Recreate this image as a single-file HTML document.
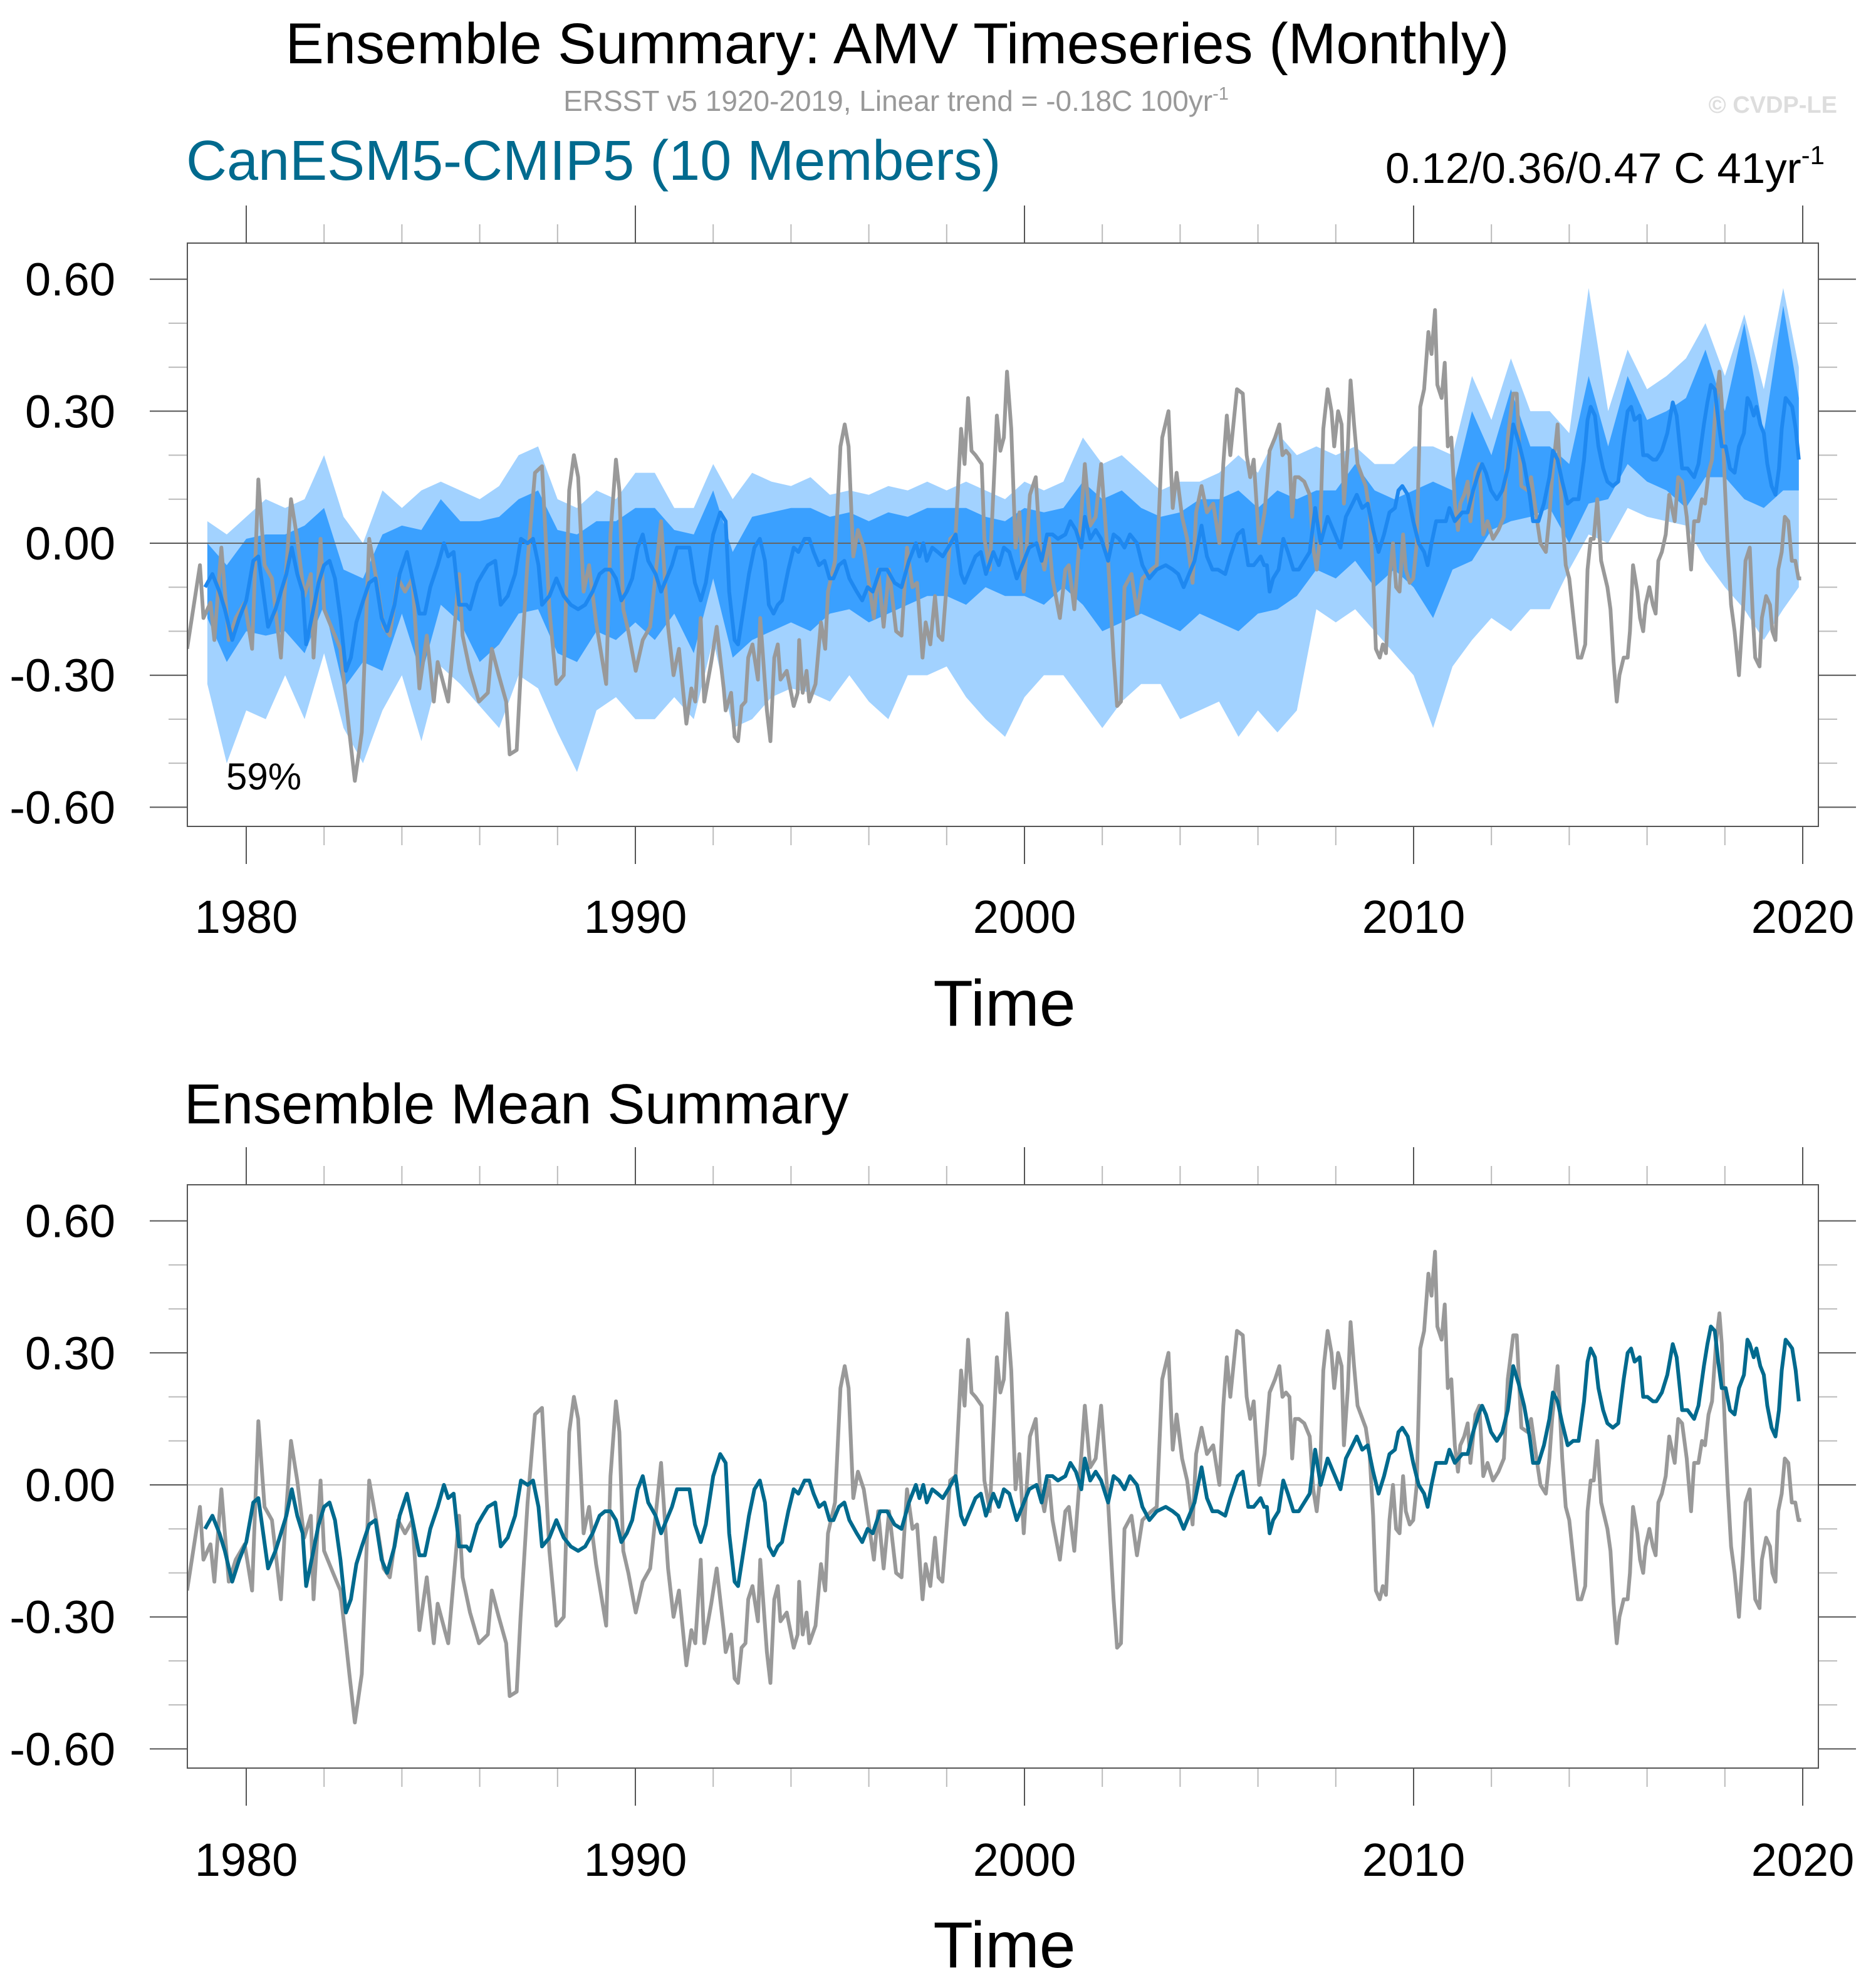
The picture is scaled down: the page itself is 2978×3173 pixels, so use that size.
<!DOCTYPE html>
<html><head><meta charset="utf-8">
<style>
html,body{margin:0;padding:0;background:#fff;}
svg{display:block;font-family:"Liberation Sans",sans-serif;}
</style></head>
<body>
<svg id="chart" width="2978" height="3173" viewBox="0 0 2978 3173" xmlns="http://www.w3.org/2000/svg">
<text x="1432" y="101" font-size="92" text-anchor="middle" fill="#000">Ensemble Summary: AMV Timeseries (Monthly)</text>
<text x="1430" y="177" font-size="46" text-anchor="middle" fill="#999">ERSST v5 1920-2019, Linear trend = -0.18C 100yr<tspan dy="-18" font-size="29">-1</tspan></text>
<text x="2932" y="180" font-size="38" font-weight="bold" text-anchor="end" fill="#ddd">© CVDP-LE</text>
<text x="297" y="287" font-size="90" fill="#006a8e">CanESM5-CMIP5 (10 Members)</text>
<text x="2912" y="292" font-size="69" text-anchor="end" fill="#000">0.12/0.36/0.47 C 41yr<tspan dy="-30" font-size="42">-1</tspan></text>
<text x="294" y="1793" font-size="90" fill="#000">Ensemble Mean Summary</text>
<g id="top"></g>
<g id="bot"></g>
</svg>
<script>
const obsYears=[1978.48,1978.81,1978.90,1979.08,1979.18,1979.36,1979.55,1979.73,1979.96,1980.15,1980.31,1980.47,1980.66,1980.89,1980.98,1981.15,1981.31,1981.49,1981.66,1981.73,1981.91,1982.00,1982.23,1982.42,1982.65,1982.79,1982.97,1983.16,1983.34,1983.53,1983.69,1983.90,1984.08,1984.27,1984.45,1984.64,1984.82,1984.92,1985.19,1985.47,1985.56,1985.75,1985.98,1986.21,1986.31,1986.49,1986.68,1986.77,1986.95,1987.05,1987.23,1987.42,1987.60,1987.79,1987.97,1988.16,1988.30,1988.42,1988.53,1988.67,1988.81,1988.99,1989.25,1989.36,1989.50,1989.59,1989.69,1989.82,1990.01,1990.19,1990.38,1990.66,1990.84,1990.98,1991.12,1991.31,1991.44,1991.54,1991.68,1991.77,1991.95,1992.09,1992.27,1992.32,1992.46,1992.55,1992.64,1992.73,1992.83,1992.90,1993.01,1993.15,1993.21,1993.38,1993.47,1993.57,1993.66,1993.73,1993.89,1994.07,1994.17,1994.21,1994.30,1994.40,1994.47,1994.63,1994.77,1994.88,1994.95,1995.13,1995.27,1995.38,1995.48,1995.60,1995.72,1995.87,1995.97,1996.13,1996.24,1996.38,1996.52,1996.70,1996.84,1996.98,1997.12,1997.24,1997.38,1997.46,1997.58,1997.70,1997.79,1997.89,1998.09,1998.23,1998.37,1998.46,1998.55,1998.64,1998.74,1998.90,1998.97,1999.11,1999.29,1999.38,1999.47,1999.55,1999.66,1999.77,1999.87,1999.98,2000.14,2000.29,2000.40,2000.51,2000.63,2000.72,2000.91,2001.05,2001.14,2001.28,2001.39,2001.55,2001.69,2001.83,2001.97,2002.15,2002.29,2002.38,2002.48,2002.57,2002.75,2002.89,2003.03,2003.26,2003.40,2003.54,2003.70,2003.81,2003.91,2004.05,2004.18,2004.32,2004.41,2004.55,2004.69,2004.85,2005.01,2005.11,2005.20,2005.29,2005.46,2005.61,2005.71,2005.80,2005.89,2006.03,2006.17,2006.30,2006.44,2006.55,2006.63,2006.72,2006.81,2006.88,2006.95,2007.05,2007.19,2007.33,2007.42,2007.51,2007.59,2007.68,2007.79,2007.89,2007.96,2008.06,2008.15,2008.21,2008.31,2008.38,2008.47,2008.56,2008.77,2008.87,2008.96,2009.03,2009.13,2009.21,2009.29,2009.38,2009.47,2009.55,2009.64,2009.73,2009.80,2009.90,2009.99,2010.08,2010.17,2010.27,2010.38,2010.46,2010.55,2010.61,2010.72,2010.80,2010.88,2010.97,2011.06,2011.14,2011.20,2011.30,2011.39,2011.46,2011.59,2011.69,2011.79,2011.90,2012.04,2012.18,2012.32,2012.42,2012.56,2012.65,2012.77,2012.93,2013.02,2013.16,2013.26,2013.40,2013.49,2013.56,2013.70,2013.82,2013.91,2014.00,2014.12,2014.22,2014.31,2014.41,2014.47,2014.55,2014.63,2014.72,2014.82,2014.98,2015.06,2015.14,2015.22,2015.29,2015.40,2015.50,2015.56,2015.64,2015.75,2015.82,2015.90,2015.96,2016.06,2016.15,2016.22,2016.29,2016.38,2016.48,2016.57,2016.71,2016.80,2016.90,2017.02,2017.13,2017.21,2017.32,2017.41,2017.49,2017.58,2017.67,2017.77,2017.86,2017.92,2018.00,2018.07,2018.16,2018.25,2018.36,2018.46,2018.53,2018.64,2018.72,2018.78,2018.89,2018.95,2019.06,2019.16,2019.22,2019.30,2019.37,2019.46,2019.54,2019.63,2019.72,2019.81,2019.89,2019.96];
const obsValues=[-0.24,-0.05,-0.17,-0.135,-0.22,-0.01,-0.22,-0.17,-0.135,-0.24,0.145,-0.05,-0.08,-0.26,-0.12,0.10,0.01,-0.12,-0.07,-0.26,0.01,-0.15,-0.20,-0.24,-0.43,-0.54,-0.43,0.01,-0.08,-0.19,-0.21,-0.08,-0.11,-0.08,-0.33,-0.21,-0.36,-0.27,-0.36,-0.07,-0.21,-0.29,-0.36,-0.34,-0.24,-0.30,-0.36,-0.48,-0.47,-0.30,-0.04,0.16,0.175,-0.15,-0.32,-0.30,0.12,0.20,0.15,-0.11,-0.05,-0.18,-0.32,0.02,0.19,0.12,-0.15,-0.20,-0.29,-0.22,-0.19,0.05,-0.19,-0.30,-0.24,-0.41,-0.33,-0.36,-0.17,-0.36,-0.27,-0.19,-0.33,-0.38,-0.34,-0.44,-0.45,-0.37,-0.36,-0.26,-0.23,-0.31,-0.17,-0.38,-0.45,-0.26,-0.23,-0.31,-0.29,-0.37,-0.34,-0.22,-0.34,-0.29,-0.36,-0.32,-0.18,-0.24,-0.11,-0.04,0.22,0.27,0.22,-0.03,0.03,-0.01,-0.07,-0.17,-0.06,-0.19,-0.06,-0.20,-0.21,-0.01,-0.10,-0.09,-0.26,-0.18,-0.23,-0.12,-0.21,-0.22,0.01,0.02,0.26,0.18,0.33,0.21,0.20,0.18,0.01,-0.06,0.29,0.21,0.24,0.39,0.26,-0.01,0.07,-0.11,0.11,0.15,-0.01,-0.06,0.01,-0.08,-0.17,-0.06,-0.05,-0.15,-0.02,0.18,0.04,0.06,0.18,-0.04,-0.26,-0.37,-0.36,-0.10,-0.07,-0.16,-0.08,-0.06,-0.05,0.24,0.30,0.08,0.16,0.06,0.01,-0.09,0.07,0.13,0.07,0.09,0.00,0.18,0.29,0.20,0.35,0.34,0.20,0.15,0.19,0.00,0.07,0.21,0.24,0.27,0.20,0.21,0.20,0.06,0.15,0.15,0.14,0.11,-0.01,-0.06,0.01,0.26,0.35,0.30,0.22,0.30,0.27,0.09,0.22,0.37,0.27,0.18,0.13,0.07,-0.07,-0.24,-0.26,-0.23,-0.25,-0.08,0.00,-0.10,-0.11,0.02,-0.06,-0.09,-0.08,0.00,0.31,0.35,0.48,0.43,0.53,0.36,0.33,0.41,0.22,0.24,0.09,0.03,0.09,0.11,0.14,0.05,0.16,0.18,0.02,0.05,0.01,0.03,0.06,0.24,0.34,0.34,0.13,0.12,0.15,0.06,0.00,-0.02,0.06,0.15,0.27,0.06,-0.05,-0.08,-0.18,-0.26,-0.26,-0.23,-0.06,0.01,0.01,0.10,-0.04,-0.10,-0.15,-0.27,-0.36,-0.30,-0.26,-0.26,-0.20,-0.05,-0.11,-0.17,-0.20,-0.14,-0.10,-0.14,-0.16,-0.04,-0.02,0.02,0.11,0.05,0.15,0.14,0.06,-0.06,0.05,0.05,0.10,0.09,0.16,0.19,0.32,0.39,0.32,0.13,0.00,-0.14,-0.20,-0.30,-0.16,-0.04,-0.01,-0.17,-0.26,-0.28,-0.17,-0.12,-0.14,-0.20,-0.22,-0.06,-0.02,0.06,0.05,-0.04,-0.04,-0.08,-0.08];
const meanYears=[1978.94,1979.13,1979.31,1979.45,1979.64,1979.82,1980.00,1980.18,1980.31,1980.42,1980.56,1980.75,1980.89,1981.03,1981.17,1981.31,1981.45,1981.54,1981.68,1981.86,1982.00,1982.14,1982.28,1982.42,1982.56,1982.69,1982.83,1982.97,1983.16,1983.32,1983.48,1983.62,1983.81,1983.94,1984.13,1984.27,1984.45,1984.59,1984.73,1984.92,1985.08,1985.19,1985.33,1985.47,1985.66,1985.75,1985.94,1986.07,1986.21,1986.40,1986.54,1986.72,1986.91,1987.06,1987.23,1987.37,1987.51,1987.60,1987.79,1987.97,1988.16,1988.34,1988.53,1988.71,1988.90,1989.08,1989.22,1989.36,1989.50,1989.64,1989.78,1989.92,1990.06,1990.19,1990.33,1990.52,1990.66,1990.80,1990.94,1991.07,1991.26,1991.39,1991.53,1991.68,1991.81,1992.00,1992.18,1992.32,1992.41,1992.55,1992.64,1992.78,1992.92,1993.06,1993.20,1993.33,1993.43,1993.55,1993.66,1993.77,1993.93,1994.07,1994.19,1994.35,1994.47,1994.58,1994.72,1994.86,1994.99,1995.09,1995.23,1995.37,1995.50,1995.69,1995.83,1995.97,1996.10,1996.29,1996.47,1996.66,1996.84,1997.03,1997.21,1997.30,1997.40,1997.49,1997.63,1997.77,1997.90,1998.04,1998.23,1998.37,1998.46,1998.60,1998.74,1998.88,1999.01,1999.20,1999.34,1999.47,1999.61,1999.80,1999.94,2000.12,2000.31,2000.44,2000.58,2000.72,2000.86,2001.05,2001.18,2001.32,2001.46,2001.55,2001.69,2001.83,2001.97,2002.15,2002.29,2002.43,2002.57,2002.71,2002.89,2003.03,2003.21,2003.40,2003.63,2003.81,2003.95,2004.09,2004.23,2004.37,2004.55,2004.69,2004.83,2004.97,2005.16,2005.29,2005.48,2005.61,2005.75,2005.89,2006.07,2006.16,2006.23,2006.30,2006.39,2006.53,2006.65,2006.77,2006.91,2007.05,2007.19,2007.33,2007.47,2007.61,2007.79,2007.98,2008.12,2008.26,2008.43,2008.54,2008.68,2008.82,2008.96,2009.10,2009.24,2009.38,2009.52,2009.61,2009.71,2009.85,2009.99,2010.13,2010.27,2010.36,2010.46,2010.58,2010.69,2010.83,2010.92,2011.06,2011.25,2011.39,2011.53,2011.67,2011.76,2011.86,2011.99,2012.14,2012.28,2012.42,2012.56,2012.70,2012.84,2012.98,2013.07,2013.21,2013.35,2013.49,2013.58,2013.70,2013.82,2013.96,2014.10,2014.24,2014.38,2014.47,2014.55,2014.66,2014.75,2014.87,2014.98,2015.12,2015.26,2015.40,2015.50,2015.59,2015.68,2015.81,2015.90,2016.01,2016.15,2016.24,2016.38,2016.52,2016.66,2016.76,2016.90,2017.04,2017.21,2017.32,2017.46,2017.55,2017.64,2017.74,2017.83,2017.92,2018.02,2018.13,2018.25,2018.36,2018.49,2018.58,2018.64,2018.74,2018.81,2018.91,2019.00,2019.09,2019.20,2019.30,2019.39,2019.46,2019.56,2019.65,2019.73,2019.82,2019.90];
const meanValues=[-0.10,-0.07,-0.11,-0.15,-0.22,-0.17,-0.13,-0.04,-0.03,-0.10,-0.19,-0.15,-0.11,-0.07,-0.01,-0.07,-0.11,-0.23,-0.17,-0.09,-0.05,-0.04,-0.08,-0.17,-0.29,-0.26,-0.18,-0.14,-0.09,-0.08,-0.17,-0.20,-0.14,-0.07,-0.02,-0.08,-0.16,-0.16,-0.10,-0.05,0.00,-0.03,-0.02,-0.14,-0.14,-0.15,-0.09,-0.07,-0.05,-0.04,-0.14,-0.12,-0.07,0.01,0.00,0.01,-0.05,-0.14,-0.12,-0.08,-0.12,-0.14,-0.15,-0.14,-0.11,-0.07,-0.06,-0.06,-0.08,-0.13,-0.11,-0.08,-0.01,0.02,-0.04,-0.07,-0.11,-0.08,-0.05,-0.01,-0.01,-0.01,-0.09,-0.13,-0.09,0.02,0.07,0.05,-0.11,-0.22,-0.23,-0.15,-0.07,-0.01,0.01,-0.04,-0.14,-0.16,-0.14,-0.13,-0.06,-0.01,-0.02,0.01,0.01,-0.02,-0.05,-0.04,-0.08,-0.08,-0.05,-0.04,-0.08,-0.11,-0.13,-0.10,-0.11,-0.06,-0.06,-0.09,-0.10,-0.04,0.00,-0.03,0.00,-0.04,-0.01,-0.02,-0.03,-0.01,0.02,-0.07,-0.09,-0.06,-0.03,-0.02,-0.07,-0.02,-0.05,-0.01,-0.02,-0.08,-0.05,-0.01,0.00,-0.04,0.02,0.02,0.01,0.02,0.05,0.03,-0.01,0.06,0.01,0.03,0.01,-0.04,0.02,0.01,-0.01,0.02,0.00,-0.05,-0.08,-0.06,-0.05,-0.06,-0.07,-0.10,-0.07,-0.04,0.04,-0.03,-0.06,-0.06,-0.07,-0.03,0.02,0.03,-0.05,-0.05,-0.03,-0.05,-0.05,-0.11,-0.08,-0.06,0.01,-0.02,-0.06,-0.06,-0.04,-0.02,0.08,0.00,0.06,0.02,-0.01,0.06,0.09,0.11,0.08,0.09,0.03,-0.02,0.02,0.07,0.08,0.12,0.13,0.11,0.05,0.00,-0.02,-0.05,0.00,0.05,0.05,0.05,0.08,0.05,0.07,0.07,0.12,0.16,0.18,0.16,0.12,0.10,0.12,0.17,0.27,0.23,0.18,0.11,0.05,0.05,0.09,0.15,0.21,0.19,0.14,0.09,0.10,0.10,0.19,0.28,0.31,0.29,0.22,0.17,0.14,0.13,0.14,0.24,0.30,0.31,0.28,0.29,0.20,0.20,0.19,0.19,0.21,0.25,0.32,0.29,0.17,0.17,0.15,0.18,0.27,0.32,0.36,0.35,0.28,0.22,0.22,0.17,0.16,0.22,0.25,0.33,0.32,0.29,0.31,0.27,0.25,0.18,0.13,0.11,0.17,0.26,0.33,0.32,0.31,0.26,0.19];
const bandYears=[1979.0,1979.5,1980.0,1980.5,1981.0,1981.5,1982.0,1982.5,1983.0,1983.5,1984.0,1984.5,1985.0,1985.5,1986.0,1986.5,1987.0,1987.5,1988.0,1988.5,1989.0,1989.5,1990.0,1990.5,1991.0,1991.5,1992.0,1992.5,1993.0,1993.5,1994.0,1994.5,1995.0,1995.5,1996.0,1996.5,1997.0,1997.5,1998.0,1998.5,1999.0,1999.5,2000.0,2000.5,2001.0,2001.5,2002.0,2002.5,2003.0,2003.5,2004.0,2004.5,2005.0,2005.5,2006.0,2006.5,2007.0,2007.5,2008.0,2008.5,2009.0,2009.5,2010.0,2010.5,2011.0,2011.5,2012.0,2012.5,2013.0,2013.5,2014.0,2014.5,2015.0,2015.5,2016.0,2016.5,2017.0,2017.5,2018.0,2018.5,2019.0,2019.5,2019.9];
const outerHi=[0.05,0.02,0.06,0.10,0.08,0.10,0.20,0.06,0.00,0.12,0.08,0.12,0.14,0.12,0.10,0.13,0.20,0.22,0.10,0.08,0.12,0.10,0.16,0.16,0.08,0.08,0.18,0.10,0.16,0.14,0.13,0.15,0.11,0.12,0.11,0.13,0.12,0.14,0.12,0.14,0.12,0.10,0.14,0.12,0.14,0.24,0.18,0.20,0.16,0.12,0.14,0.14,0.16,0.20,0.16,0.25,0.20,0.22,0.20,0.22,0.18,0.18,0.22,0.22,0.20,0.38,0.28,0.42,0.30,0.30,0.25,0.58,0.30,0.44,0.35,0.38,0.42,0.50,0.38,0.52,0.35,0.58,0.40];
const innerHi=[0.00,-0.05,0.01,0.02,0.02,0.04,0.08,-0.06,-0.08,0.02,0.04,0.03,0.10,0.05,0.05,0.06,0.10,0.12,0.03,0.02,0.05,0.05,0.08,0.08,0.03,0.02,0.12,-0.02,0.06,0.07,0.08,0.08,0.06,0.07,0.05,0.07,0.06,0.08,0.08,0.08,0.06,0.05,0.08,0.07,0.08,0.14,0.10,0.12,0.08,0.06,0.07,0.10,0.10,0.12,0.08,0.12,0.10,0.12,0.12,0.18,0.12,0.10,0.12,0.14,0.12,0.30,0.20,0.35,0.22,0.22,0.18,0.38,0.22,0.38,0.28,0.30,0.33,0.44,0.30,0.50,0.25,0.54,0.33];
const innerLo=[-0.17,-0.27,-0.20,-0.21,-0.20,-0.25,-0.14,-0.33,-0.27,-0.29,-0.16,-0.30,-0.14,-0.18,-0.27,-0.23,-0.16,-0.15,-0.25,-0.27,-0.20,-0.22,-0.18,-0.22,-0.16,-0.25,-0.08,-0.26,-0.22,-0.20,-0.18,-0.20,-0.16,-0.15,-0.18,-0.16,-0.14,-0.12,-0.12,-0.14,-0.10,-0.12,-0.12,-0.14,-0.10,-0.14,-0.20,-0.18,-0.16,-0.18,-0.20,-0.16,-0.18,-0.20,-0.16,-0.15,-0.12,-0.06,-0.08,-0.04,-0.10,-0.06,-0.10,-0.17,-0.06,-0.04,0.03,0.05,0.06,0.08,0.00,0.09,0.10,0.18,0.14,0.12,0.08,0.15,0.15,0.10,0.08,0.12,0.12];
const outerLo=[-0.32,-0.50,-0.38,-0.40,-0.30,-0.40,-0.25,-0.42,-0.50,-0.38,-0.30,-0.45,-0.28,-0.32,-0.37,-0.42,-0.30,-0.33,-0.43,-0.52,-0.38,-0.35,-0.40,-0.40,-0.35,-0.40,-0.22,-0.42,-0.40,-0.35,-0.33,-0.34,-0.36,-0.30,-0.36,-0.40,-0.30,-0.30,-0.28,-0.35,-0.40,-0.44,-0.35,-0.30,-0.30,-0.36,-0.42,-0.36,-0.32,-0.32,-0.40,-0.38,-0.36,-0.44,-0.38,-0.43,-0.38,-0.15,-0.18,-0.15,-0.20,-0.25,-0.30,-0.42,-0.28,-0.22,-0.17,-0.20,-0.15,-0.15,-0.06,0.02,0.00,0.08,0.06,0.05,0.04,-0.04,-0.10,-0.15,-0.22,-0.15,-0.10];
const yTickLabels=["0.60","0.30","0.00","-0.30","-0.60"];
const yTickValues=[0.6,0.3,0,-0.3,-0.6];
const xTickLabels=["1980","1990","2000","2010","2020"];
const xTickValues=[1980,1990,2000,2010,2020];

const NS="http://www.w3.org/2000/svg";
const X0=299,X1=2902;
function xs(yr){return 393+(yr-1980)*(2877-393)/40;}
function mk(parent,tag,attrs){const e=document.createElementNS(NS,tag);for(const k in attrs)e.setAttribute(k,attrs[k]);parent.appendChild(e);return e;}
function linePts(ys,vs,ysc){return ys.map((y,i)=>xs(y).toFixed(1)+","+ysc(vs[i]).toFixed(1)).join(" ");}
function bandPts(hi,lo,ysc){
  const a=bandYears.map((y,i)=>xs(y).toFixed(1)+","+ysc(hi[i]).toFixed(1));
  const b=bandYears.map((y,i)=>xs(y).toFixed(1)+","+ysc(lo[i]).toFixed(1)).reverse();
  return a.concat(b).join(" ");
}
function panel(g,top,bottom,zeroY,withBands,meanColor,xlabY,timeY,pct){
  const ysc=v=>zeroY-v*(210.7/0.3);
  for(let v=-0.6;v<=0.61;v+=0.1){
    const yv=Math.round(v*10)/10, y=ysc(yv);
    if(y<top||y>bottom)continue;
    const major=Math.abs(Math.round(yv*10))%3===0;
    const len=major?60:30, col=major?"#555":"#bbb";
    const t1=mk(g,"line",{x1:X0-len,y1:y,x2:X0,y2:y,stroke:col,"stroke-width":2});
    
    
    const t2=mk(g,"line",{x1:X1,y1:y,x2:X1+len,y2:y,stroke:col,"stroke-width":2});
    
    
  }
  yTickValues.forEach((v,i)=>{
    const t=mk(g,"text",{x:184,y:ysc(v)+26,"font-size":74,"text-anchor":"end",fill:"#000"});
    t.textContent=yTickLabels[i];
    
    
  });
  for(let yr=1978;yr<=2020;yr+=2){
    const x=xs(yr); if(x<X0-1||x>X1+1)continue;
    const major=yr%10===0, len=major?60:30, col=major?"#555":"#bbb";
    const a=mk(g,"line",{x1:x,y1:top-len,x2:x,y2:top,stroke:col,"stroke-width":2});
    
    
    const b=mk(g,"line",{x1:x,y1:bottom,x2:x,y2:bottom+len,stroke:col,"stroke-width":2});
    
    
  }
  xTickValues.forEach((v,i)=>{
    const t=mk(g,"text",{x:xs(v),y:xlabY,"font-size":74,"text-anchor":"middle",fill:"#000"});
    t.textContent=xTickLabels[i];
    
    
  });
  const tt=mk(g,"text",{x:1603,y:timeY,"font-size":104,"text-anchor":"middle",fill:"#000"});
  tt.textContent="Time";
  
  
  const clipId="clip"+top;
  const cp=mk(g,"clipPath",{id:clipId});
  mk(cp,"rect",{x:X0,y:top,width:X1-X0,height:bottom-top});
  const plot=mk(g,"g",{"clip-path":"url(#"+clipId+")"});
  
  
  if(withBands){
    const o=mk(plot,"polygon",{points:bandPts(outerHi,outerLo,ysc),fill:"#a2d2ff"});
    
    
    const n=mk(plot,"polygon",{points:bandPts(innerHi,innerLo,ysc),fill:"#3aa0ff"});
    
    
  }
  const z=mk(plot,"line",{x1:X0,y1:zeroY,x2:X1,y2:zeroY,stroke:withBands?"#666":"#bbb","stroke-width":2});
  
  
  const ob=mk(plot,"polyline",{points:linePts(obsYears,obsValues,ysc),fill:"none",stroke:"#999","stroke-width":6,"stroke-linejoin":"round"});
  
  
  const mn=mk(plot,"polyline",{points:linePts(meanYears,meanValues,ysc),fill:"none",stroke:meanColor,"stroke-width":6,"stroke-linejoin":"round"});
  
  
  const box=mk(g,"rect",{x:X0,y:top,width:X1-X0,height:bottom-top,fill:"none",stroke:"#555","stroke-width":2});
  
  
  if(pct){
    const p=mk(g,"text",{x:361,y:1260,"font-size":60,fill:"#000"});
    p.textContent=pct;
    
    
  }
}
panel(document.getElementById("top"),388,1319,867,true,"#1e88f0",1489,1637,"59%");
panel(document.getElementById("bot"),1891,2822,2370,false,"#006a8e",2994,3140,null);
</script>
</body></html>
